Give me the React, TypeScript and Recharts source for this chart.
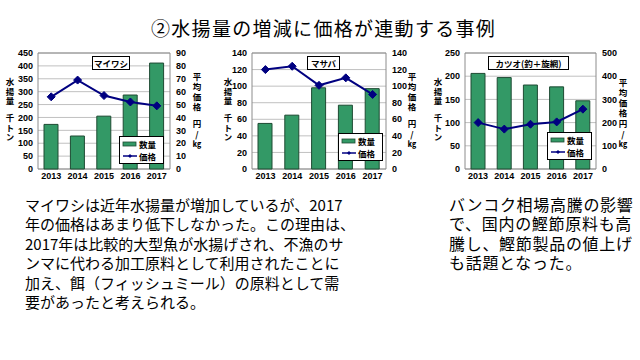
import React from "react";
import {
  ComposedChart,
  Bar,
  Line,
  XAxis,
  YAxis,
  CartesianGrid,
  ReferenceArea,
} from "recharts";

const years = ["2013", "2014", "2015", "2016", "2017"];

// マイワシ
const iwashiCatch = [173, 128, 205, 287, 411];
const iwashiPrice = [56, 69, 57, 52, 49];
const iwashiLeftTicks = [0, 50, 100, 150, 200, 250, 300, 350, 400, 450];
const iwashiRightTicks = [0, 10, 20, 30, 40, 50, 60, 70, 80, 90];

// マサバ
const sabaCatch = [55, 65, 98, 77, 97];
const sabaPrice = [120, 124, 101, 110, 90];
const sabaLeftTicks = [0, 20, 40, 60, 80, 100, 120, 140];
const sabaRightTicks = [0, 20, 40, 60, 80, 100, 120, 140];

// カツオ
const katsuoCatch = [206, 197, 181, 177, 147];
const katsuoPrice = [200, 172, 193, 203, 258];
const katsuoLeftTicks = [0, 50, 100, 150, 200, 250];
const katsuoRightTicks = [0, 100, 200, 300, 400, 500];

const JP = '"Noto Sans CJK JP", sans-serif';
const TICK = { fontSize: 9, fontWeight: 700, fill: "#000", fontFamily: '"Liberation Sans", Arial' };
const GREEN = "#339966";
const NAVY = "#000080";

const Diamond = (props: any) => {
  const { cx, cy } = props;
  if (cx == null || cy == null) return null;
  const r = 4;
  return (
    <path
      d={`M${cx},${cy - r}L${cx + r},${cy}L${cx},${cy + r}L${cx - r},${cy}Z`}
      fill={NAVY}
      stroke={NAVY}
    />
  );
};

// 縦書きの軸タイトル
function VText({ x, y, step, children }: { x: number; y: number; step: number; children: React.ReactNode }) {
  return (
    <div
      style={{
        position: "absolute",
        left: x - 8,
        top: y - step / 2,
        width: 16,
        writingMode: "vertical-rl",
        lineHeight: "16px",
        fontSize: 8.5,
        letterSpacing: step - 8.5,
        fontWeight: 700,
        fontFamily: JP,
        whiteSpace: "nowrap",
      }}
    >
      {children}
    </div>
  );
}

interface PanelProps {
  left: number;
  width: number;
  leftW: number;
  rightW: number;
  catchVals: number[];
  priceVals: number[];
  leftTicks: number[];
  rightTicks: number[];
  name: string;
  nameBox: [number, number, number];
  legendBox: [number, number];
  leftTitleX: number;
  rightTitleX: number;
  rightTitleY: number;
}

function Panel(p: PanelProps) {
  const data = years.map((y, i) => ({ year: y, catch: p.catchVals[i], price: p.priceVals[i] }));
  const lmax = p.leftTicks[p.leftTicks.length - 1];
  const rmax = p.rightTicks[p.rightTicks.length - 1];
  return (
    <>
      <div style={{ position: "absolute", left: p.left, top: 40 }}>
        <ComposedChart
          width={p.width}
          height={150}
          data={data}
          margin={{ top: 13, right: 0, bottom: 1, left: 0 }}
          barSize={14}
        >
          <CartesianGrid yAxisId="l" vertical={false} stroke="#c0c0c0" />
          <XAxis
            dataKey="year"
            tick={TICK}
            axisLine={false}
            tickLine={false}
            tickSize={4}
            tickMargin={0}
            height={20}
            interval={0}
          />
          <YAxis
            yAxisId="l"
            width={p.leftW}
            domain={[0, lmax]}
            ticks={p.leftTicks}
            tick={TICK}
            axisLine={false}
            tickLine={false}
            tickSize={3}
            tickMargin={2}
            interval={0}
          />
          <YAxis
            yAxisId="r"
            orientation="right"
            width={p.rightW}
            domain={[0, rmax]}
            ticks={p.rightTicks}
            tick={{ ...TICK, textAnchor: "start" }}
            axisLine={false}
            tickLine={false}
            tickSize={3}
            tickMargin={3}
            interval={0}
          />
          <ReferenceArea yAxisId="l" y1={0} y2={lmax} fill="none" stroke="#8c8c8c" />
          <Bar
            yAxisId="l"
            dataKey="catch"
            fill={GREEN}
            stroke="#1e4a33"
            strokeWidth={1}
            isAnimationActive={false}
          />
          <Line
            yAxisId="r"
            dataKey="price"
            stroke={NAVY}
            strokeWidth={2}
            dot={<Diamond />}
            activeDot={false}
            isAnimationActive={false}
          />
        </ComposedChart>
      </div>
      <div
        style={{
          position: "absolute",
          left: p.nameBox[0],
          top: p.nameBox[1],
          width: p.nameBox[2],
          height: 12,
          border: "1px solid #000",
          background: "#fff",
          fontSize: 8.5,
          fontWeight: 700,
          lineHeight: "12px",
          textAlign: "center",
          fontFamily: JP,
          whiteSpace: "nowrap",
          overflow: "hidden",
        }}
      >
        {p.name}
      </div>
      <div
        style={{
          position: "absolute",
          left: p.legendBox[0],
          top: p.legendBox[1],
          width: 43,
          height: 26,
          border: "1px solid #000",
          background: "#fff",
          fontFamily: JP,
          fontSize: 8.5,
          fontWeight: 700,
        }}
      >
        <svg width={43} height={26} style={{ position: "absolute", left: 0, top: 0 }}>
          <rect x={3} y={5} width={13} height={4} fill={GREEN} stroke="#1e4a33" strokeWidth={0.8} />
          <line x1={3} y1={19} x2={17} y2={19} stroke={NAVY} strokeWidth={1.5} />
          <path d="M10,17L12,19L10,21L8,19Z" fill={NAVY} />
        </svg>
        <div style={{ position: "absolute", left: 19, top: 1, lineHeight: "12px" }}>数量</div>
        <div style={{ position: "absolute", left: 19, top: 13, lineHeight: "12px" }}>価格</div>
      </div>
      <VText x={p.leftTitleX} y={83} step={9.5}>水揚量</VText>
      <VText x={p.leftTitleX} y={119} step={9.5}>千トン</VText>
      <VText x={p.rightTitleX} y={p.rightTitleY} step={10}>平均価格</VText>
      <VText x={p.rightTitleX} y={125} step={10.5}>
        円<span style={{ textCombineUpright: "all" } as any}>/</span>
        <span style={{ textCombineUpright: "all" } as any}>kg</span>
      </VText>
    </>
  );
}

export default function App() {
  return (
    <div
      style={{
        position: "absolute",
        left: 0,
        top: 0,
        width: 640,
        height: 360,
        background: "#fff",
        overflow: "hidden",
        fontFamily: JP,
        color: "#000",
      }}
    >
      <div
        style={{
          position: "absolute",
          left: 151,
          top: 16,
          fontSize: 19,
          letterSpacing: 1.3,
          lineHeight: "24px",
          whiteSpace: "nowrap",
        }}
      >
        ②水揚量の増減に価格が連動する事例
      </div>

      <Panel
        left={0}
        width={210}
        leftW={38}
        rightW={40}
        catchVals={iwashiCatch}
        priceVals={iwashiPrice}
        leftTicks={iwashiLeftTicks}
        rightTicks={iwashiRightTicks}
        name="マイワシ"
        nameBox={[92, 56, 36]}
        legendBox={[119, 136]}
        leftTitleX={10}
        rightTitleX={197}
        rightTitleY={78}
      />
      <Panel
        left={210}
        width={210}
        leftW={42}
        rightW={34}
        catchVals={sabaCatch}
        priceVals={sabaPrice}
        leftTicks={sabaLeftTicks}
        rightTicks={sabaRightTicks}
        name="マサバ"
        nameBox={[307, 56, 31]}
        legendBox={[338, 133]}
        leftTitleX={228}
        rightTitleX={412}
        rightTitleY={78}
      />
      <Panel
        left={420}
        width={215}
        leftW={45}
        rightW={39}
        catchVals={katsuoCatch}
        priceVals={katsuoPrice}
        leftTicks={katsuoLeftTicks}
        rightTicks={katsuoRightTicks}
        name="カツオ(釣＋旋網)"
        nameBox={[488, 56, 79]}
        legendBox={[547, 132]}
        leftTitleX={438}
        rightTitleX={623}
        rightTitleY={84}
      />

      <div
        style={{
          position: "absolute",
          left: 25,
          top: 195,
          fontSize: 15,
          lineHeight: "19.4px",
          whiteSpace: "pre",
        }}
      >
        {"マイワシは近年水揚量が増加しているが、2017\n年の価格はあまり低下しなかった。この理由は、\n2017年は比較的大型魚が水揚げされ、不漁のサ\nンマに代わる加工原料として利用されたことに\n加え、餌（フィッシュミール）の原料として需\n要があったと考えられる。"}
      </div>
      <div
        style={{
          position: "absolute",
          left: 449,
          top: 195,
          fontSize: 16,
          letterSpacing: 0.7,
          lineHeight: "19.4px",
          whiteSpace: "pre",
        }}
      >
        {"バンコク相場高騰の影響\nで、国内の鰹節原料も高\n騰し、鰹節製品の値上げ\nも話題となった。"}
      </div>
    </div>
  );
}
